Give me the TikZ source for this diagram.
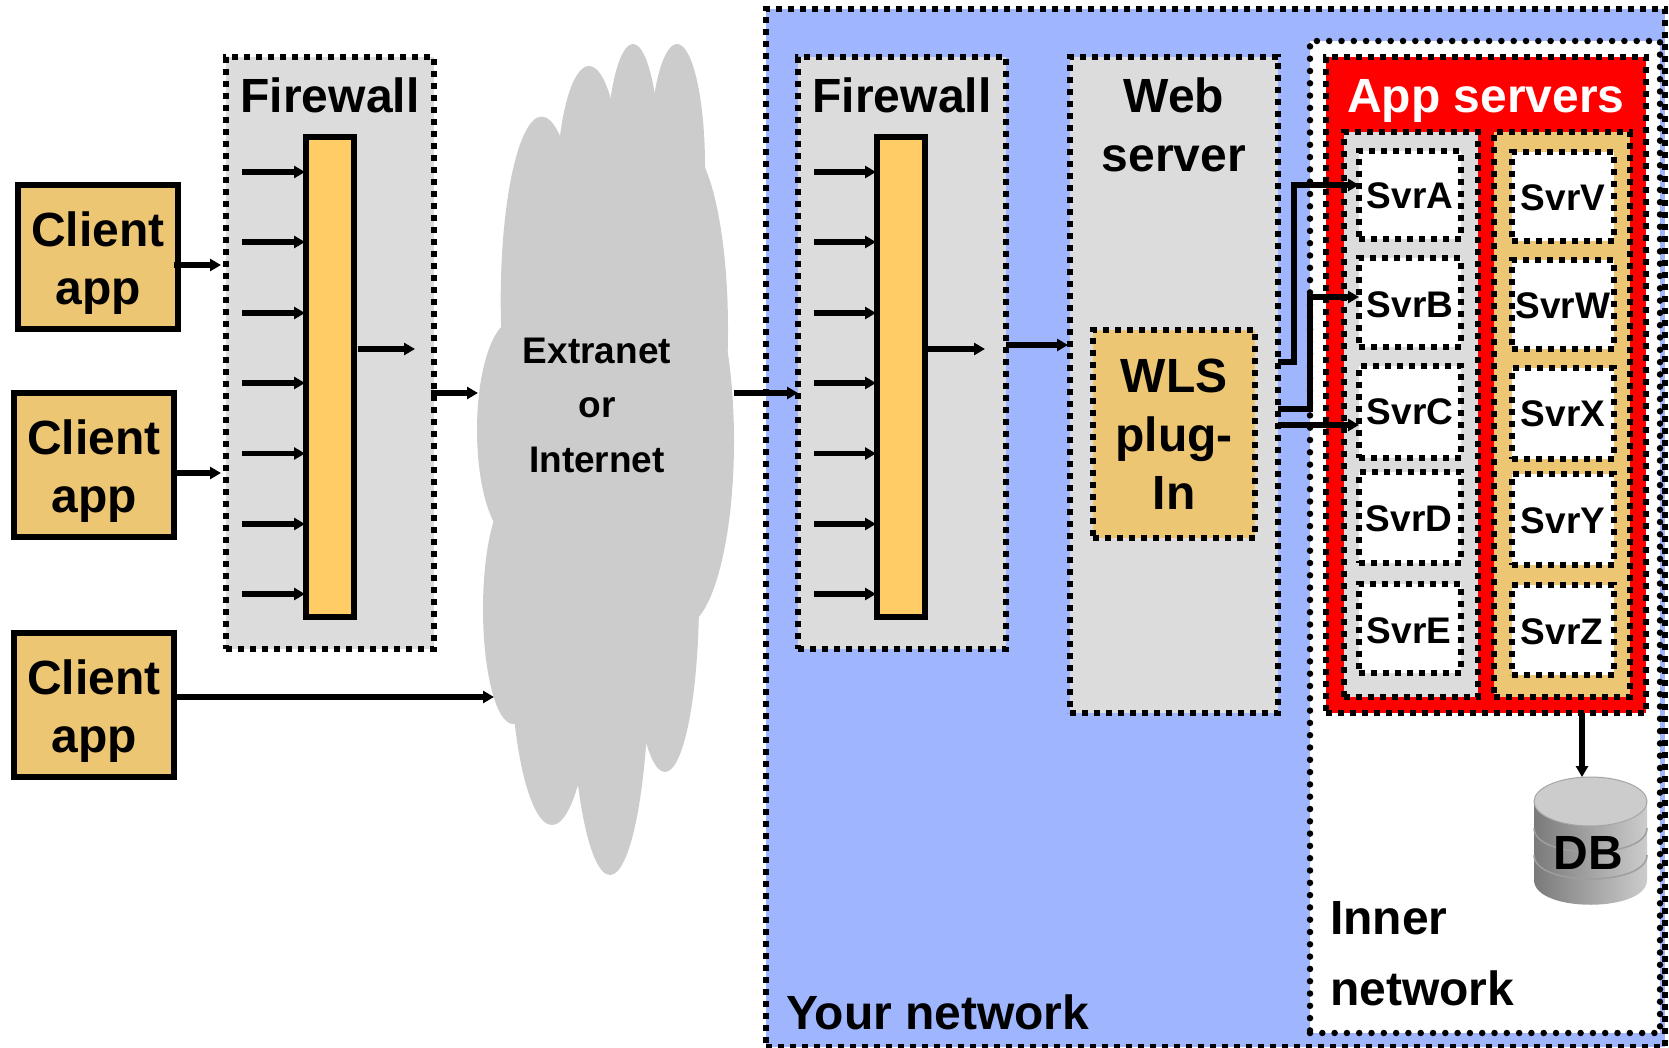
\documentclass[tikz,border=0pt]{standalone}
\usepackage{fontspec}
\setmainfont{Liberation Sans}
\usetikzlibrary{arrows.meta,calc}
\definecolor{bluenet}{HTML}{9FB6FF}
\definecolor{graybox}{HTML}{DCDCDC}
\definecolor{tanbox}{HTML}{ECC672}
\definecolor{barfill}{HTML}{FFCC66}
\definecolor{cloudgray}{HTML}{CCCCCC}
\tikzset{
  rect/.style={inner sep=0pt,outer sep=0pt,line width=6pt},
  sq/.style={rect,draw=black,dash pattern=on 6pt off 6pt},
  dots/.style={draw=black,line width=6.5pt,line cap=round,dash pattern=on 0pt off 12.3pt},
  solidbox/.style={rect,draw=black},
  arr/.style={draw=black,line width=5.5pt,-{Triangle[length=11pt,width=12pt]}},
  big/.style={font=\fontsize{48}{56}\selectfont\bfseries,anchor=base,inner sep=0pt},
  svr/.style={font=\fontsize{37}{42}\selectfont\bfseries,anchor=base,inner sep=0pt},
  ext/.style={font=\fontsize{37}{42}\selectfont\bfseries,anchor=base,inner sep=0pt},
}
\newcommand{\bx}[6]{\node[#2,minimum width={(#5-#3)*1pt},minimum height={(#6-#4)*1pt}] (#1) at ({(#3+#5)/2},{(#4+#6)/2}) {};}
\begin{document}
\begin{tikzpicture}[x=1pt,y=-1pt]
\useasboundingbox (0,0) rectangle (1669,1048);
% your network
\bx{your}{sq,fill=bluenet}{766}{9}{1665}{1047}
% cloud
\foreach \cx/\cy/\rx/\ry in {541.7/300.6/41/184,589/188/32/122,633/166/27/122,677/166/28/122,683/329/45/185,683/441/51/185,513/430/36/109,513/609/30/115,552/637/42/188,610/665/39/210,665/598/34/174}
  \fill[cloudgray] (\cx,\cy) ellipse [x radius=\rx pt,y radius=\ry pt];
\fill[cloudgray] (530,250) rectangle (690,650);
% clients
\bx{cone}{solidbox,fill=tanbox}{18}{185}{178}{329}
\bx{ctwo}{solidbox,fill=tanbox}{14}{393}{174}{537}
\bx{cthree}{solidbox,fill=tanbox}{14}{633}{174}{777}
\node[big] (conea) at (98,247) {Client};
\node[big] (coneb) at (98,305) {app};
\node[big] (ctwoa) at (94,454) {Client};
\node[big] (ctwob) at (94,512) {app};
\node[big] (cthreea) at (94,694) {Client};
\node[big] (cthreeb) at (94,752) {app};
% firewalls
\bx{fwone}{sq,fill=graybox}{226}{57}{434}{649}
\bx{barone}{solidbox,fill=barfill}{306}{137}{354}{617}
\bx{fwtwo}{sq,fill=graybox}{798}{57}{1006}{649}
\bx{bartwo}{solidbox,fill=barfill}{877}{137}{925}{617}
\node[big] (fwonet) at (330,113) {Firewall};
\node[big] (fwtwot) at (902,113) {Firewall};
\foreach \y [count=\i] in {172,242,313,383,453.5,524,594}{
  \coordinate (ina\i) at (242,\y);
  \coordinate (inb\i) at (814,\y);
  \draw[arr,shorten >=1pt] (ina\i) -- (barone.west |- ina\i);
  \draw[arr,shorten >=1pt] (inb\i) -- (bartwo.west |- inb\i);
}
% web server
\bx{web}{sq,fill=graybox}{1070}{57}{1278}{713}
\node[big] (weba) at (1174,113) {Web};
\node[big] (webb) at (1174,172) {server};
\bx{wls}{sq,fill=tanbox}{1093}{330}{1255}{538}
\node[big] (wlsa) at (1174,392) {WLS};
\node[big] (wlsb) at (1174,451) {plug-};
\node[big] (wlsc) at (1174,509) {In};
% inner network
\bx{inner}{rect,fill=white,dots}{1310}{41}{1660}{1033}
\node[big,anchor=base west] (innera) at (1330,934) {Inner};
\node[big,anchor=base west] (innerb) at (1330,1005) {network};
\node[big,anchor=base west] (yourt) at (786,1029) {Your network};
% app servers
\bx{apps}{sq,fill=red}{1326}{57}{1646}{713}
\node[big,text=white] (appst) at (1486,113) {App servers};
\bx{cola}{sq,fill=graybox}{1344}{132}{1478}{697}
\bx{colb}{sq,fill=tanbox}{1494}{132}{1630}{697}
\bx{svra}{sq,fill=white}{1359}{151}{1461}{239}
\bx{svrb}{sq,fill=white}{1359}{258}{1461}{347}
\bx{svrc}{sq,fill=white}{1359}{366}{1461}{458}
\bx{svrd}{sq,fill=white}{1359}{472}{1461}{563}
\bx{svre}{sq,fill=white}{1359}{584}{1461}{673}
\bx{svrv}{sq,fill=white}{1512}{152}{1614}{241}
\bx{svrw}{sq,fill=white}{1512}{260}{1614}{349}
\bx{svrx}{sq,fill=white}{1512}{368}{1614}{459}
\bx{svry}{sq,fill=white}{1512}{474}{1614}{565}
\bx{svrz}{sq,fill=white}{1512}{585}{1614}{675}
\node[svr] (ta) at (1410,209) {SvrA};
\node[svr] (tb) at (1410,317) {SvrB};
\node[svr] (tc) at (1410,424) {SvrC};
\node[svr] (td) at (1409,531) {SvrD};
\node[svr] (te) at (1409,643) {SvrE};
\node[svr] (tv) at (1563,211) {SvrV};
\node[svr] (tw) at (1563,319) {SvrW};
\node[svr] (tx) at (1563,426) {SvrX};
\node[svr] (ty) at (1563,533) {SvrY};
\node[svr] (tz) at (1562,644) {SvrZ};
% cloud text
\node[ext] (exa) at (597,363) {Extranet};
\node[ext] (exb) at (597,417) {or};
\node[ext] (exc) at (597,472) {Internet};
% DB
\path[left color=black!52,right color=black!20] (1534,801.5) -- (1534,880) .. controls (1534,913) and (1647,913) .. (1647,880) -- (1647,801.5) -- cycle;
\draw[black!38,line width=1.5pt] (1534,828) .. controls (1534,860) and (1647,860) .. (1647,828);
\draw[black!38,line width=1.5pt] (1534,855) .. controls (1534,887) and (1647,887) .. (1647,855);
\draw[fill=cloudgray,draw=black!35,line width=1pt] (1590.5,801.5) ellipse [x radius=56.5pt,y radius=24.5pt];
\node[big] (dbt) at (1588,869) {DB};
\coordinate (dbtop) at (1582,777);
% connectors
\coordinate (cloudin) at (478,393);
\coordinate (cloudinb) at (494,697);
\coordinate (cloudout) at (734,393);
\coordinate (oneout) at (415,349);
\coordinate (twoout) at (985,349);
\draw[arr,shorten <=-4pt,shorten >=5pt] (cone.east |- 0,265) -- (fwone.west |- 0,265);
\draw[arr,shorten >=5pt] (ctwo.east |- 0,473) -- (fwone.west |- 0,473);
\draw[arr] (cthree.east |- cloudinb) -- (cloudinb);
\draw[arr,shorten <=4pt] (barone.east |- oneout) -- (oneout);
\draw[arr,shorten <=-3pt] (fwone.east |- cloudin) -- (cloudin);
\draw[arr,shorten <=3pt] (bartwo.east |- twoout) -- (twoout);
\draw[arr] (cloudout) -- (fwtwo.west |- cloudout);
\draw[arr,shorten >=2pt] (fwtwo.east |- 0,345) -- (web.west |- 0,345);
\coordinate (ja) at (1294,362);
\coordinate (jb) at (1310,409);
\draw[arr] (web.east |- ja) -- (ja) -- (1294,185) -- (svra.west |- 0,185);
\draw[arr] (web.east |- jb) -- (jb) -- (1310,297) -- (svrb.west |- 0,297);
\draw[arr] (web.east |- 0,425) -- (svrc.west |- 0,425);
\draw[arr] (apps.south -| dbtop) -- (dbtop);
\end{tikzpicture}
\end{document}
